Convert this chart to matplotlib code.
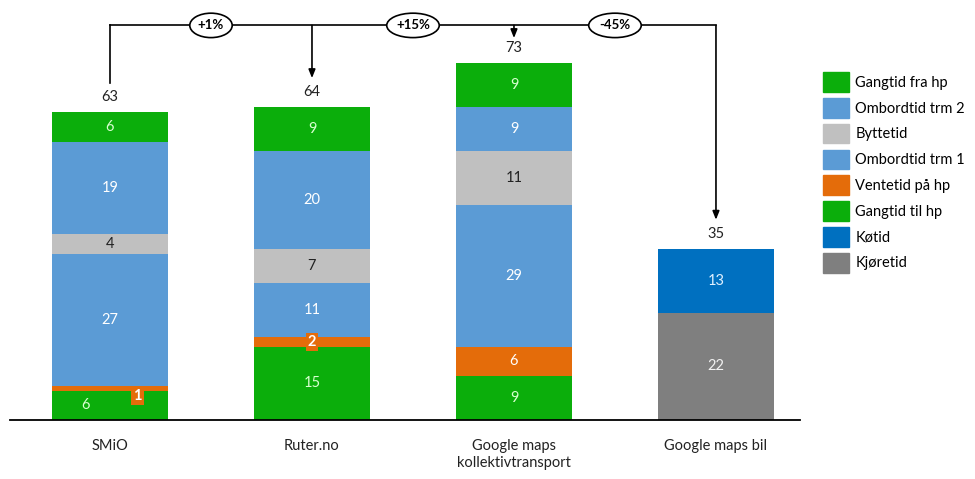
import matplotlib.pyplot as plt
from matplotlib.patches import Patch, Ellipse
import numpy as np

plt.rcParams['font.family'] = ['Lato', 'DejaVu Sans']

routes = ['SMiO', 'Ruter.no', 'Google maps\nkollektivtransport', 'Google maps bil']

# bottom to top
gang_til = [6, 15, 9, 0]
ventetid = [1, 2, 6, 0]
ombord_1 = [27, 11, 29, 0]
byttetid = [4, 7, 11, 0]
ombord_2 = [19, 20, 9, 0]
gang_fra = [6, 9, 9, 0]
kjoretid = [0, 0, 0, 22]
kotid = [0, 0, 0, 13]

changes = ['+1%', '+15%', '-45%']

GREEN = '#0BAE0B'
BLUE = '#5B9BD5'
LGRAY = '#C0C0C0'
ORANGE = '#E46C0A'
DBLUE = '#0070C0'
DGRAY = '#7F7F7F'

# (values, legend label, colour, text colour)
segments = [
    (gang_til, 'Gangtid til hp', GREEN, '#D8FFD0'),
    (ventetid, 'Ventetid på hp', ORANGE, 'white'),
    (ombord_1, 'Ombordtid trm 1', BLUE, 'white'),
    (byttetid, 'Byttetid', LGRAY, '#222222'),
    (ombord_2, 'Ombordtid trm 2', BLUE, 'white'),
    (gang_fra, 'Gangtid fra hp', GREEN, '#D8FFD0'),
    (kjoretid, 'Kjøretid', DGRAY, '#F2F2F2'),
    (kotid, 'Køtid', DBLUE, '#E0F0FF'),
]

fig = plt.figure(figsize=(9.75, 4.79), dpi=100)
ax = fig.add_axes([10 / 975, 59 / 479, 790 / 975, 420 / 479])

x = np.arange(len(routes))
width = 0.57
bottom = np.zeros(len(routes))
for vals, label, color, tcolor in segments:
    vals = np.array(vals, dtype=float)
    ax.bar(x, vals, width, bottom=bottom, color=color, label=label, zorder=2)
    for i, v in enumerate(vals):
        if v == 0:
            continue
        cy = bottom[i] + v / 2
        cx = x[i]
        box = None
        if label == 'Ventetid på hp' and v < 3:
            # small segments get a label box
            box = dict(boxstyle='square,pad=0.15', fc=ORANGE, ec='none')
            if i == 0:
                cx = x[i] + 0.135
                cy = bottom[i] + v / 2 - 1.5
        if label == 'Gangtid til hp' and i == 0:
            cx = x[i] - 0.12
            cy = 3.1
        ax.text(cx, cy, f'{int(v)}', ha='center', va='center', fontsize=10.5,
                color=tcolor, fontweight='bold' if box else 'normal',
                bbox=box, zorder=4)
    bottom += vals

totals = bottom
for i, t in enumerate(totals):
    ax.annotate(f'{int(t)}', (x[i], t), xytext=(0, 6), textcoords='offset points',
                ha='center', va='bottom', fontsize=10.5, color='#222222')

# connector arrows between bars
line_y = 80.8
ax.plot([x[0], x[3]], [line_y, line_y], color='black', lw=1.2, zorder=3)
ax.plot([x[0], x[0]], [line_y, totals[0] + 6], color='black', lw=1.2, zorder=3)
for i, end in [(1, totals[1] + 6), (2, totals[2] + 5.2), (3, totals[3] + 6)]:
    ax.annotate('', xy=(x[i], end), xytext=(x[i], line_y),
                arrowprops=dict(arrowstyle='-|>,head_length=0.5,head_width=0.2',
                                color='black', lw=1.2, shrinkA=0, shrinkB=0),
                zorder=3)
for i, txt in enumerate(changes):
    cx = x[i] + 0.5
    w = 0.21 if len(txt) < 4 else 0.26
    ax.add_patch(Ellipse((cx, line_y), w, 5.0, fc='white', ec='black', lw=1.2, zorder=4))
    ax.text(cx, line_y, txt, ha='center', va='center', fontsize=9.5,
            fontweight='bold', zorder=5)

ax.set_xlim(-0.495, 3.416)
ax.set_ylim(0, 86)
ax.set_xticks(x)
ax.set_xticklabels(routes, fontsize=10.5, color='#222222')
ax.tick_params(axis='x', length=0, pad=14)
ax.set_yticks([])
for s in ['top', 'right', 'left']:
    ax.spines[s].set_visible(False)
ax.spines['bottom'].set_linewidth(1.3)

order = ['Gangtid fra hp', 'Ombordtid trm 2', 'Byttetid', 'Ombordtid trm 1',
         'Ventetid på hp', 'Gangtid til hp', 'Køtid', 'Kjøretid']
colors = {s[1]: s[2] for s in segments}
handles = [Patch(color=colors[n], label=n) for n in order]
fig.legend(handles=handles, loc='upper left', bbox_to_anchor=(810 / 975, 1 - 59 / 479),
           frameon=False, fontsize=10.5, handlelength=1.8, handleheight=1.7,
           labelspacing=0.42, handletextpad=0.4)

fig.savefig('out.png', dpi=100)
